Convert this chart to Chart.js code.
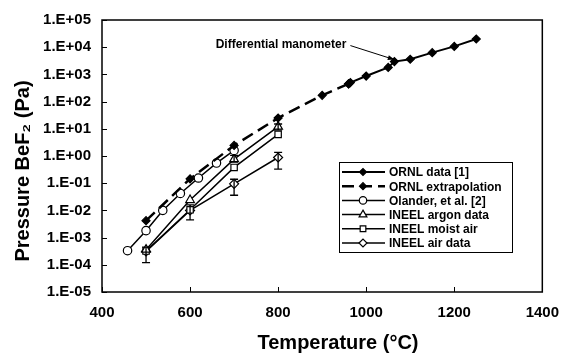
<!DOCTYPE html>
<html>
<head>
<meta charset="utf-8">
<script src="https://cdn.jsdelivr.net/npm/chart.js@4/dist/chart.umd.min.js"></script>
<style>
  html, body { margin: 0; padding: 0; background: #fff; }
  #wrap { width: 571px; height: 356px; }
</style>
</head>
<body>
<div id="wrap"><canvas id="bef2"></canvas></div>
<script>
'use strict';

// ===== data =====
var ornlT = [960, 964, 1000, 1050, 1064, 1100, 1150, 1200, 1250];
var ornlP = [450, 500, 870, 1800, 2950, 3600, 6300, 10700, 20000];

var extrapT = [500, 600, 700, 800, 900, 960];
var extrapP = [0.0042, 0.145, 2.45, 25, 170, 450];

var olanderT = [458, 500, 538, 578, 619, 660, 700];
var olanderP = [0.00033, 0.0018, 0.010, 0.042, 0.155, 0.55, 1.6];

var ineelT = [500, 600, 700, 800];
var argonP = [0.00036, 0.024, 0.77, 12];
var moistP = [0.00032, 0.0105, 0.38, 6.2];
var airP = [0.00031, 0.010, 0.095, 0.88];

// error bars (low / high), null = none
var argonLow = [null, null, 0.6, 9];
var argonHigh = [null, null, 1.05, 15];
var airLow = [0.00012, 0.0045, 0.036, 0.33];
var airHigh = [0.00045, 0.016, 0.14, 1.35];

var xTicks = [400, 600, 800, 1000, 1200, 1400];
var yExps = [-5, -4, -3, -2, -1, 0, 1, 2, 3, 4, 5];

var seriesNames = ['ORNL data [1]', 'ORNL extrapolation', 'Olander, et al. [2]',
  'INEEL argon data', 'INEEL moist air', 'INEEL air data'];

var xTitle = 'Temperature (°C)';
var yTitle = 'Pressure BeF₂ (Pa)';
var note = { text: 'Differential manometer', x: 955, y: 12500, toX: 1064, toY: 2950 };

function pts(xs, ys) {
  return xs.map(function (x, i) { return { x: x, y: ys[i] }; });
}

var FONT = '"Liberation Sans", Arial, sans-serif';

// ===== plugins =====
var frameAndTicks = {
  id: 'frameAndTicks',
  afterDraw: function (chart) {
    var ctx = chart.ctx, a = chart.chartArea;
    var xs = chart.scales.x, ys = chart.scales.y;
    ctx.save();
    ctx.strokeStyle = '#000';
    ctx.lineWidth = 1.5;
    ctx.strokeRect(a.left, a.top, a.right - a.left, a.bottom - a.top);
    ctx.lineWidth = 1;
    ctx.beginPath();
    xTicks.forEach(function (v) {
      var px = Math.round(xs.getPixelForValue(v)) + 0.5;
      ctx.moveTo(px, a.bottom);
      ctx.lineTo(px, a.bottom - 5);
    });
    yExps.forEach(function (e) {
      var py = Math.round(ys.getPixelForValue(Math.pow(10, e))) + 0.5;
      ctx.moveTo(a.left, py);
      ctx.lineTo(a.left + 5, py);
    });
    ctx.stroke();

    // axis titles
    ctx.fillStyle = '#000';
    ctx.font = 'bold 20px ' + FONT;
    ctx.textAlign = 'center';
    ctx.textBaseline = 'middle';
    ctx.fillText(xTitle, a.left + 236, 343);
    ctx.translate(23, a.top + 151);
    ctx.rotate(-Math.PI / 2);
    ctx.fillText(yTitle, 0, 0);
    ctx.restore();
  }
};

var errorBars = {
  id: 'errorBars',
  afterDatasetsDraw: function (chart) {
    var ctx = chart.ctx, xs = chart.scales.x, ys = chart.scales.y;
    ctx.save();
    ctx.strokeStyle = '#000';
    ctx.lineWidth = 1.3;
    chart.data.datasets.forEach(function (ds) {
      if (!ds.errLow) return;
      ds.data.forEach(function (p, i) {
        if (ds.errLow[i] == null) return;
        var px = xs.getPixelForValue(p.x);
        var lo = ys.getPixelForValue(ds.errLow[i]);
        var hi = ys.getPixelForValue(ds.errHigh[i]);
        ctx.beginPath();
        ctx.moveTo(px, lo); ctx.lineTo(px, hi);
        ctx.moveTo(px - 4, lo); ctx.lineTo(px + 4, lo);
        ctx.moveTo(px - 4, hi); ctx.lineTo(px + 4, hi);
        ctx.stroke();
      });
    });
    ctx.restore();
  }
};

var noteAndLegend = {
  id: 'noteAndLegend',
  afterDraw: function (chart) {
    var ctx = chart.ctx, a = chart.chartArea;
    var xs = chart.scales.x, ys = chart.scales.y;
    ctx.save();
    // annotation
    ctx.font = 'bold 12px ' + FONT;
    ctx.fillStyle = '#000';
    ctx.textAlign = 'right';
    ctx.textBaseline = 'middle';
    var tx = xs.getPixelForValue(note.x), ty = ys.getPixelForValue(note.y);
    ctx.fillText(note.text, tx, ty);
    var ax = xs.getPixelForValue(note.toX), ay = ys.getPixelForValue(note.toY) - 2;
    var sx = tx + 4, sy = ty + 1;
    ctx.strokeStyle = '#000';
    ctx.lineWidth = 1;
    ctx.beginPath(); ctx.moveTo(sx, sy); ctx.lineTo(ax, ay); ctx.stroke();
    var ang = Math.atan2(ay - sy, ax - sx);
    ctx.beginPath();
    ctx.moveTo(ax, ay);
    ctx.lineTo(ax - 7 * Math.cos(ang - 0.35), ay - 7 * Math.sin(ang - 0.35));
    ctx.lineTo(ax - 7 * Math.cos(ang + 0.35), ay - 7 * Math.sin(ang + 0.35));
    ctx.closePath(); ctx.fill();

    // legend box
    var bx = a.left + 237, by = a.top + 142, bw = 173, bh = 90;
    ctx.fillStyle = '#fff';
    ctx.fillRect(bx, by, bw, bh);
    ctx.lineWidth = 1;
    ctx.strokeRect(bx + 0.5, by + 0.5, bw, bh);
    chart.data.datasets.forEach(function (ds, i) {
      var ry = by + 10 + i * 14.2;
      ctx.strokeStyle = '#000';
      ctx.lineWidth = ds.borderWidth;
      ctx.setLineDash(ds.borderDash || []);
      ctx.beginPath(); ctx.moveTo(bx + 3, ry); ctx.lineTo(bx + 46, ry); ctx.stroke();
      ctx.setLineDash([]);
      ctx.fillStyle = ds.pointBackgroundColor;
      ctx.strokeStyle = '#000';
      ctx.lineWidth = 1.2;
      Chart.helpers.drawPoint(ctx, {
        pointStyle: ds.pointStyle, radius: ds.pointRadius - 0.5, borderWidth: 1.2, rotation: 0
      }, bx + 24, ry);
      ctx.fillStyle = '#000';
      ctx.font = 'bold 12px ' + FONT;
      ctx.textAlign = 'left';
      ctx.fillText(seriesNames[i], bx + 50, ry + 1);
    });
    ctx.restore();
  }
};

function line(name, xs, ys, opts) {
  var ds = {
    label: name,
    data: pts(xs, ys),
    borderColor: '#000',
    borderWidth: 1.5,
    pointBorderColor: '#000',
    pointBorderWidth: 1.2,
    pointBackgroundColor: '#fff',
    pointRadius: 4,
    pointStyle: 'circle',
    showLine: true,
    tension: 0,
    fill: false
  };
  Object.keys(opts || {}).forEach(function (k) { ds[k] = opts[k]; });
  return ds;
}

var datasets = [
  line(seriesNames[0], ornlT, ornlP, { borderWidth: 2, pointStyle: 'rectRot', pointBackgroundColor: '#000', pointRadius: 4 }),
  line(seriesNames[1], extrapT, extrapP, { borderWidth: 2.5, borderDash: [12, 6], pointStyle: 'rectRot', pointBackgroundColor: '#000', pointRadius: 4 }),
  line(seriesNames[2], olanderT, olanderP, { pointStyle: 'circle', pointRadius: 4.2 }),
  line(seriesNames[3], ineelT, argonP, { pointStyle: 'triangle', pointRadius: 5, errLow: argonLow, errHigh: argonHigh }),
  line(seriesNames[4], ineelT, moistP, { pointStyle: 'rect', pointRadius: 4.5 }),
  line(seriesNames[5], ineelT, airP, { pointStyle: 'rectRot', pointRadius: 4.5, errLow: airLow, errHigh: airHigh })
];

new Chart(document.getElementById('bef2'), {
  type: 'scatter',
  data: { datasets: datasets },
  plugins: [errorBars, frameAndTicks, noteAndLegend],
  options: {
    responsive: true,
    maintainAspectRatio: false,
    animation: false,
    layout: { padding: { left: 0, right: 28, top: 15, bottom: 0 } },
    plugins: { legend: { display: false }, tooltip: { enabled: false } },
    scales: {
      x: {
        type: 'linear',
        min: 400, max: 1400,
        afterBuildTicks: function (s) { s.ticks = xTicks.map(function (v) { return { value: v }; }); },
        afterFit: function (s) { s.height = 64; },
        grid: { display: false, drawTicks: false },
        border: { display: false },
        ticks: {
          color: '#000', padding: 12, maxRotation: 0,
          font: { family: FONT, size: 15, weight: 'bold' },
          callback: function (v) { return String(v); }
        }
      },
      y: {
        type: 'logarithmic',
        min: 1e-5, max: 1e5,
        afterBuildTicks: function (s) { s.ticks = yExps.map(function (e) { return { value: Math.pow(10, e) }; }); },
        afterFit: function (s) { s.width = 102; },
        grid: { display: false, drawTicks: false },
        border: { display: false },
        ticks: {
          color: '#000', padding: 11,
          font: { family: FONT, size: 15, weight: 'bold' },
          callback: function (v) {
            var e = Math.round(Math.log10(v));
            return '1.E' + (e < 0 ? '-' : '+') + (Math.abs(e) < 10 ? '0' : '') + Math.abs(e);
          }
        }
      }
    }
  }
});
</script>
</body>
</html>
